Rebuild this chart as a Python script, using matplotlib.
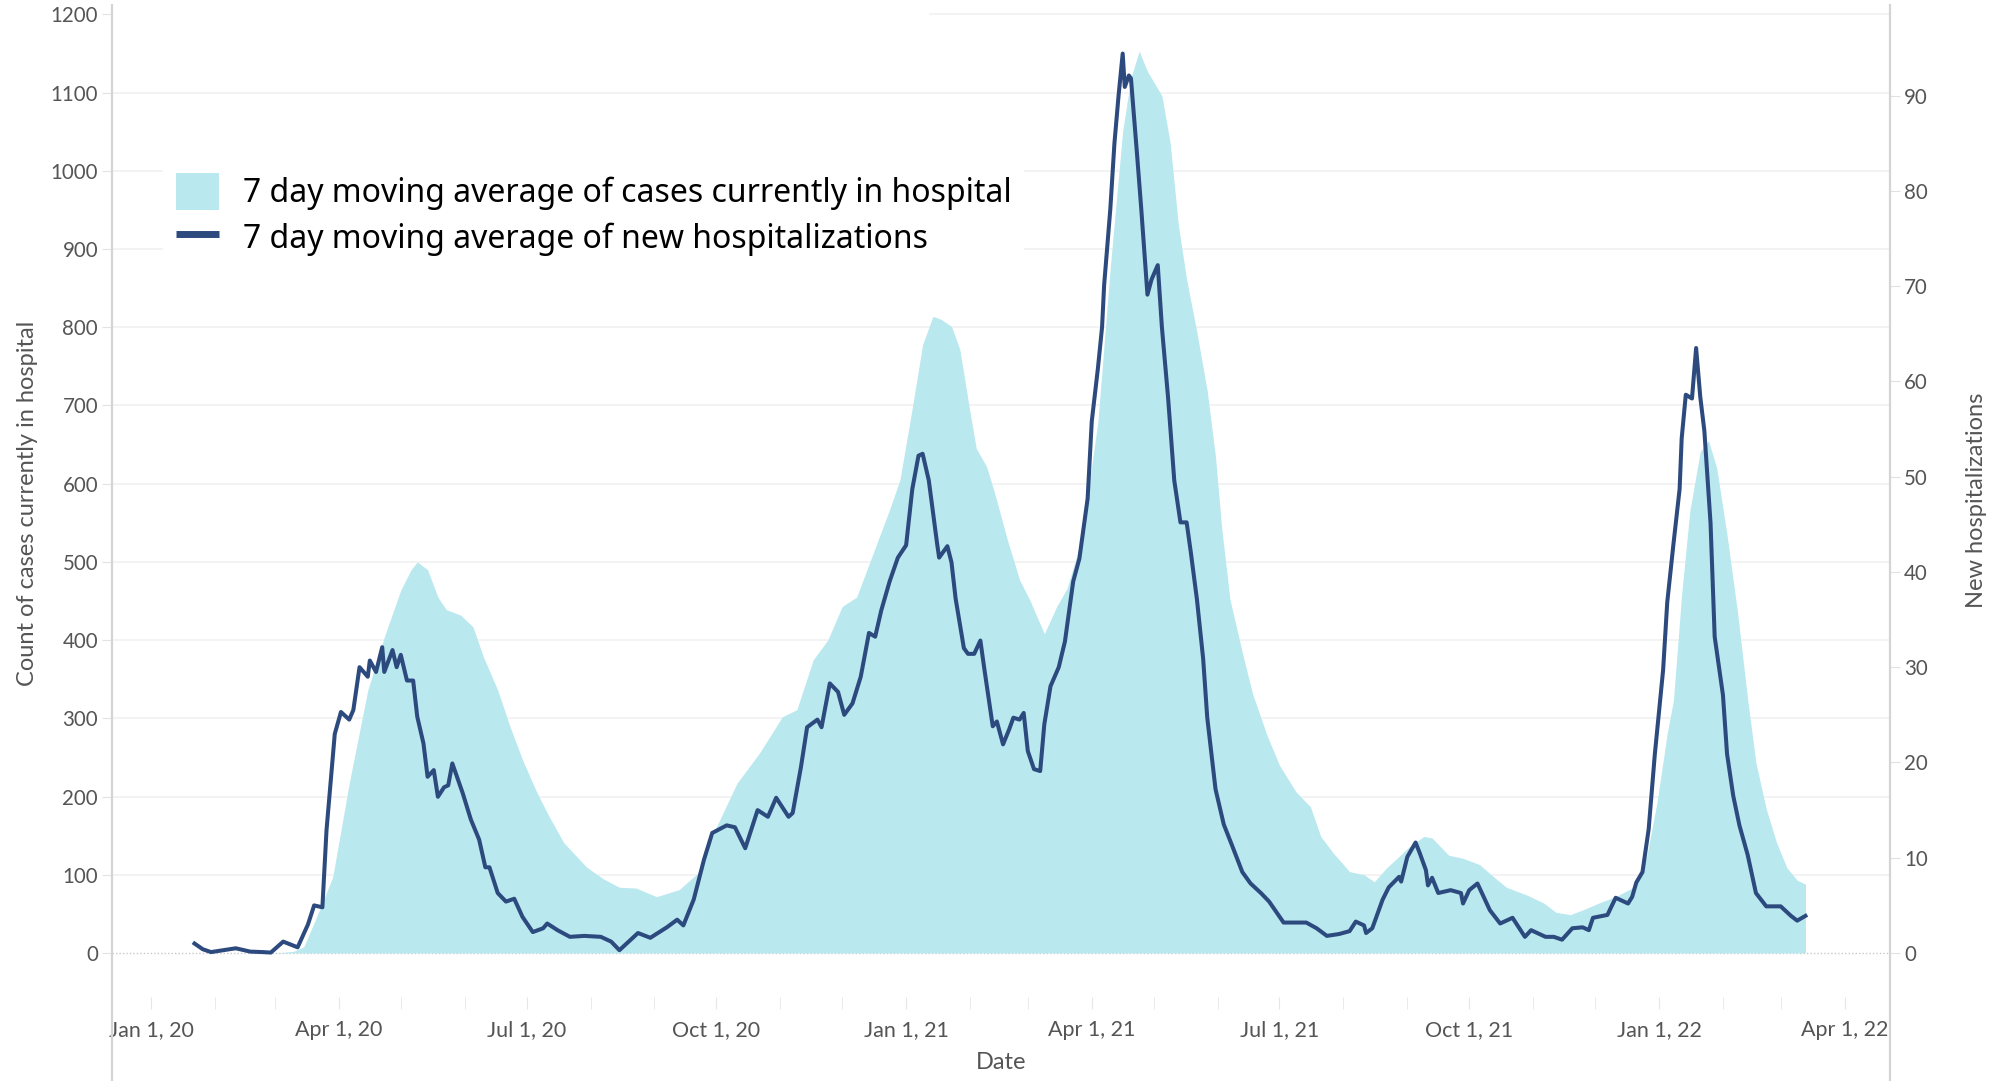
import numpy as np
import matplotlib

matplotlib.use("Agg")
import matplotlib.dates as mdates
import matplotlib.pyplot as plt
from matplotlib.lines import Line2D
from matplotlib.patches import Patch
from matplotlib.ticker import FuncFormatter

BASE = np.datetime64("2020-01-01")

# 7 day moving average of cases currently in hospital (left axis); x = days since Jan 1, 2020
HOSP_DAY = [21, 60, 69, 74, 80, 88, 96, 105, 113, 121, 126, 129, 134, 139, 143, 150, 156, 161,
            168, 174, 180, 187, 193, 200, 211, 219, 227, 235, 245, 256, 265, 274, 284, 295, 306,
            313, 321, 328, 335, 342, 350, 358, 363, 369, 374, 379, 383, 388, 392, 397, 400, 405,
            409, 415, 421, 426, 433, 439, 444, 451, 459, 465, 471, 475, 479, 483, 490, 494, 498,
            502, 507, 512, 516, 519, 523, 529, 534, 541, 547, 555, 562, 567, 573, 581, 588, 593,
            599, 604, 610, 617, 621, 629, 636, 644, 651, 657, 667, 675, 681, 688, 694, 702, 710,
            718, 725, 730, 735, 738, 742, 746, 751, 755, 759, 764, 769, 774, 778, 783, 788, 793,
            798, 802]
HOSP_AVG = [0, 0, 2, 8, 45, 97, 217, 336, 404, 464, 490, 500, 490, 455, 439, 432, 417, 379,
            336, 289, 247, 205, 174, 141, 110, 95, 84, 83, 72, 81, 102, 161, 217, 256, 302,
            311, 375, 400, 443, 455, 511, 567, 605, 697, 778, 814, 810, 801, 772, 691, 645, 622,
            587, 529, 477, 451, 408, 443, 466, 528, 680, 877, 1051, 1119, 1153, 1127, 1096, 1036, 930,
            861, 793, 718, 634, 543, 452, 384, 331, 278, 240, 206, 187, 149, 128, 104, 100, 91,
            109, 121, 136, 149, 147, 125, 121, 113, 97, 84, 74, 64, 52, 49, 55, 64, 72,
            83, 123, 192, 281, 323, 459, 566, 641, 655, 620, 534, 437, 324, 243, 184, 141, 109,
            93, 88]

# 7 day moving average of new hospitalizations (right axis)
NEW_DAY = [21, 25, 29, 35, 41, 48, 54, 58, 64, 71, 76, 79, 83, 85, 89, 92, 96, 98, 101, 105,
           106, 109, 112, 113, 117, 119, 121, 124, 127, 129, 132, 134, 137, 139, 142, 144, 146,
           151, 155, 159, 162, 164, 168, 172, 176, 180, 185, 190, 192, 197, 203, 210, 218, 223,
           227, 232, 236, 242, 250, 255, 258, 263, 268, 272, 279, 283, 288, 294, 299, 303, 309,
           311, 315, 318, 323, 325, 329, 333, 336, 340, 344, 348, 351, 354, 358, 362, 366, 369,
           372, 374, 377, 381, 382, 386, 388, 390, 394, 396, 399, 402, 404, 408, 410, 413, 416,
           418, 421, 423, 425, 428, 431, 433, 436, 440, 443, 447, 450, 454, 456, 459, 461, 462,
           465, 467, 469, 471, 472, 474, 475, 478, 480, 483, 485, 488, 490, 493, 496, 499, 502,
           504, 507, 510, 512, 516, 520, 524, 529, 533, 538, 542, 549, 555, 560, 565, 570, 576,
           581, 584, 588, 589, 592, 597, 600, 605, 606, 609, 613, 615, 618, 619, 621, 624, 630,
           635, 636, 639, 643, 646, 649, 654, 660, 666, 669, 676, 680, 684, 689, 694, 697, 699,
           706, 710, 716, 718, 720, 723, 726, 729, 733, 735, 738, 741, 742, 744, 747, 749, 751,
           753, 756, 758, 762, 764, 767, 770, 774, 778, 783, 790, 795, 798, 802]
NEW_AVG = [1.0, 0.4, 0.1, 0.3, 0.5, 0.15, 0.1, 0.05, 1.2, 0.6, 3.0, 5.0, 4.8, 12.9, 23.0, 25.3,
           24.5, 25.5, 30.0, 29.0, 30.7, 29.5, 32.1, 29.5, 31.8, 30.0, 31.3, 28.6, 28.6, 24.8,
           22.0, 18.5, 19.2, 16.4, 17.4, 17.6, 19.9, 16.8, 14.0, 11.9, 9.0, 9.0, 6.3, 5.4, 5.7,
           3.8, 2.2, 2.6, 3.1, 2.4, 1.7, 1.8, 1.7, 1.2, 0.3, 1.3, 2.1, 1.6, 2.7, 3.5, 2.9, 5.6,
           9.8, 12.6, 13.4, 13.2, 11.0, 15.0, 14.3, 16.3, 14.3, 14.7, 19.5, 23.7, 24.5, 23.7,
           28.3, 27.4, 25.0, 26.2, 29.0, 33.6, 33.2, 36.0, 39.0, 41.5, 42.8, 48.7, 52.2, 52.4,
           49.6, 43.0, 41.5, 42.7, 41.0, 37.2, 32.0, 31.4, 31.4, 32.8, 29.7, 23.8, 24.3, 21.9,
           23.5, 24.7, 24.5, 25.2, 21.2, 19.3, 19.1, 24.0, 28.0, 30.0, 32.7, 39.0, 41.4, 47.7,
           55.8, 61.4, 65.7, 70.1, 78.1, 85.0, 90.0, 94.4, 90.9, 92.1, 91.8, 83.7, 78.1, 69.1,
           70.7, 72.2, 65.7, 58.3, 49.6, 45.2, 45.2, 42.1, 37.1, 30.9, 24.7, 17.2, 13.5, 11.3,
           8.5, 7.3, 6.3, 5.4, 3.2, 3.2, 3.2, 2.6, 1.8, 2.0, 2.3, 3.3, 2.9, 2.1, 2.6, 5.6, 6.9,
           8.0, 7.5, 10.1, 11.6, 10.5, 8.7, 7.1, 7.9, 6.3, 6.6, 6.3, 5.2, 6.6, 7.3, 5.9, 4.5,
           3.1, 3.7, 1.7, 2.4, 1.7, 1.7, 1.4, 2.6, 2.7, 2.4, 3.7, 4.0, 5.8, 5.2, 5.9, 7.4, 8.5,
           13.0, 20.9, 29.7, 36.8, 42.9, 48.7, 54.0, 58.6, 58.2, 63.5, 58.4, 54.8, 45.1, 33.2,
           27.1, 20.9, 16.5, 13.4, 10.3, 6.3, 4.9, 4.9, 3.9, 3.4, 3.9]

LEFT_TICKS = list(range(0, 1201, 100))
RIGHT_TICKS = list(range(0, 91, 10))
LEGEND_LABELS = ["7 day moving average of cases currently in hospital",
                 "7 day moving average of new hospitalizations"]

FILL, NAVY, GRID, SPINE, TXT = "#b9e8ef", "#2c4a7e", "#f2f2f2", "#d4d4d4", "#555555"
TICK_FONT = "Lato"


def to_dates(days):
    return BASE + np.array(days).astype("timedelta64[D]")


def date_label(v, _pos):
    d = mdates.num2date(v)
    return f"{d:%b} {d.day}, {d:%y}"


def main():
    fig = plt.figure(figsize=(19.98, 10.81), dpi=100)
    ax = fig.add_axes([112 / 1998, 0.0, 1778 / 1998, 1076 / 1081])
    ax2 = ax.twinx()

    ax.fill_between(to_dates(HOSP_DAY), HOSP_AVG, 0, color=FILL, lw=0, zorder=2)
    ax2.plot(to_dates(NEW_DAY), NEW_AVG, color=NAVY, lw=2.9, solid_joinstyle="round", zorder=3)

    ax.set_xlim(BASE - np.timedelta64(19, "D"), BASE + np.timedelta64(843, "D"))
    ax.set_ylim(-163.7, 1212)
    ax2.set_ylim(-13.43, 99.5)

    # grid + dotted zero line
    for v in LEFT_TICKS[1:-1]:
        ax.axhline(v, color=GRID, lw=1.3, zorder=0)
    ax.axhline(LEFT_TICKS[-1], xmin=0.46, color=GRID, lw=1.3, zorder=0)
    ax.axhline(0, color="#c8c8c8", lw=1, ls=(0, (1, 1.5)), zorder=1)

    for s in ["top", "right", "bottom"]:
        ax.spines[s].set_visible(False)
    for s in ["top", "left", "bottom"]:
        ax2.spines[s].set_visible(False)
    ax.spines["left"].set_color(SPINE)
    ax.spines["left"].set_linewidth(1.6)
    ax2.spines["right"].set_color(SPINE)
    ax2.spines["right"].set_linewidth(1.6)
    ax.spines["bottom"].set_position(("data", -64))

    ax.set_yticks(LEFT_TICKS)
    ax2.set_yticks(RIGHT_TICKS)
    ax.tick_params(axis="y", length=7, color="#e2e2e2", pad=3, labelsize=14.8, labelcolor=TXT)
    ax2.tick_params(axis="y", length=7, color="#e2e2e2", pad=3, labelsize=14.8, labelcolor=TXT)

    ax.xaxis.set_major_locator(mdates.MonthLocator(bymonth=[1, 4, 7, 10]))
    ax.xaxis.set_minor_locator(mdates.MonthLocator())
    ax.xaxis.set_major_formatter(FuncFormatter(date_label))
    ax.tick_params(axis="x", which="both", direction="inout", length=8, color="#e6e6e6",
                   labelsize=15.5, labelcolor=TXT, pad=8)

    for lab in ax.get_xticklabels() + ax.get_yticklabels() + ax2.get_yticklabels():
        lab.set_family(TICK_FONT)

    ax.set_xlabel("Date", fontsize=17, color=TXT, family=TICK_FONT)
    ax.xaxis.set_label_coords(0.5, 0.027)
    ax.set_ylabel("Count of cases currently in hospital", fontsize=17, color=TXT,
                  family=TICK_FONT)
    ax.yaxis.set_label_coords(-0.0415, 0.537)
    ax2.set_ylabel("New hospitalizations", fontsize=17, color=TXT, family=TICK_FONT)
    ax2.yaxis.set_label_coords(1.0425, 0.54)

    handles = [Patch(facecolor=FILL, edgecolor="none"),
               Line2D([], [], color=NAVY, lw=5, solid_capstyle="butt")]
    leg = ax2.legend(handles, LEGEND_LABELS, loc="upper left",
                     bbox_to_anchor=(163 / 1998, 1 - 160 / 1081), bbox_transform=fig.transFigure,
                     frameon=True, facecolor="white", edgecolor="none", framealpha=1,
                     fancybox=False, borderpad=0.4, borderaxespad=0, handlelength=1.35,
                     handleheight=1.4, handletextpad=0.75, labelspacing=0.3,
                     prop={"family": "Noto Sans", "size": 23})
    leg.set_zorder(10)

    fig.savefig("out.png", dpi=100, facecolor="white")
    plt.close(fig)


if __name__ == "__main__":
    main()
